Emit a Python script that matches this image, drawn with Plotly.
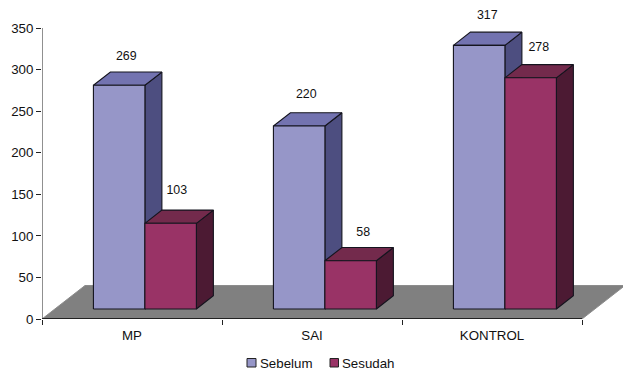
import plotly.graph_objects as go

# Chart data
categories = ["MP", "SAI", "KONTROL"]
sebelum = [269, 220, 317]
sesudah = [103, 58, 278]
series_names = ["Sebelum", "Sesudah"]
y_ticks = [0, 50, 100, 150, 200, 250, 300, 350]

# Colours per series: front, top and side faces
faces_sebelum = ("#9696C8", "#7373B0", "#4D4E80")
faces_sesudah = ("#993366", "#732A4C", "#4C1A33")
edge = "#14141E"
axis_color = "#222222"

# Page layout in pixels
WIDTH, HEIGHT = 623, 370
LEFT, BOTTOM = 42, 51
PX_PER_CATEGORY = 180
PX_PER_VALUE = 291 / 350

# Oblique projection: one unit of depth shifts a point right (category units)
# and up (value units).
DEPTH_X = 43 / PX_PER_CATEGORY
DEPTH_Y = 33.5 / PX_PER_VALUE
BAR_WIDTH = 0.286
Z_FRONT, Z_BACK = 0.30, 0.695

# Per-label fine placement (dx right, dy down, in pixels), series by category
LABEL_NUDGE = [[(0, 2), (0, 0), (1, 1)], [(-1, -2), (5.5, 3), (1, 1)]]


def project(x, value, z):
    return x + z * DEPTH_X, value + z * DEPTH_Y


def polygon(points):
    xs, ys = zip(*[project(*p) for p in points])
    return list(xs) + [xs[0]], list(ys) + [ys[0]]


def face_trace(points, color, width=1.1, line_color=edge):
    xs, ys = polygon(points)
    return go.Scatter(
        x=xs, y=ys, mode="lines", fill="toself", fillcolor=color,
        line=dict(color=line_color, width=width),
        hoverinfo="skip", showlegend=False, cliponaxis=False,
    )


def axis_line(xs, ys, width):
    return go.Scatter(
        x=xs, y=ys, mode="lines", line=dict(color=axis_color, width=width),
        hoverinfo="skip", showlegend=False, cliponaxis=False,
    )


fig = go.Figure()

# Floor of the plot
fig.add_trace(face_trace([(0, 0, 0), (3, 0, 0), (3, 0, 1), (0, 0, 1)],
                         "#808080", width=1, line_color="#8C8C8C"))

# Axis lines stop at the last category and the last value tick
fig.add_trace(axis_line([0, 3], [0, 0], 1.8))
fig.add_trace(axis_line([0, 0], [0, y_ticks[-1]], 1))

# Bars: each series drawn left to right, second series over the first
for s, (values, faces) in enumerate([(sebelum, faces_sebelum), (sesudah, faces_sesudah)]):
    front, top, side = faces
    for i, v in enumerate(values):
        x0 = i + 0.5 - BAR_WIDTH + s * BAR_WIDTH
        x1 = x0 + BAR_WIDTH
        fig.add_trace(face_trace([(x1, 0, Z_FRONT), (x1, 0, Z_BACK), (x1, v, Z_BACK), (x1, v, Z_FRONT)], side))
        fig.add_trace(face_trace([(x0, v, Z_FRONT), (x1, v, Z_FRONT), (x1, v, Z_BACK), (x0, v, Z_BACK)], top))
        fig.add_trace(face_trace([(x0, 0, Z_FRONT), (x1, 0, Z_FRONT), (x1, v, Z_FRONT), (x0, v, Z_FRONT)], front))

# Value labels above each bar
for s, values in enumerate([sebelum, sesudah]):
    lx, ly = [], []
    for i, v in enumerate(values):
        x0 = i + 0.5 - BAR_WIDTH + s * BAR_WIDTH
        px, py = project(x0 + BAR_WIDTH / 2, v, Z_BACK)
        dx, dy = LABEL_NUDGE[s][i]
        lx.append(px - 0.055 + dx / PX_PER_CATEGORY)
        ly.append(py + 21 - dy / PX_PER_VALUE)
    fig.add_trace(go.Scatter(
        x=lx, y=ly, mode="text", text=[str(v) for v in values],
        textposition="middle center",
        textfont=dict(family="Liberation Sans", size=12.4, color="#111111"),
        hoverinfo="skip", showlegend=False, cliponaxis=False,
    ))

fig.update_layout(
    width=WIDTH, height=HEIGHT, autosize=False,
    margin=dict(l=LEFT, r=0, t=0, b=BOTTOM, pad=0),
    paper_bgcolor="white", plot_bgcolor="white",
    font=dict(family="Liberation Sans", size=13.3, color="#111111"),
    showlegend=False,
    xaxis=dict(
        range=[0, (WIDTH - LEFT) / PX_PER_CATEGORY],
        tickmode="array", tickvals=[0.5, 1.5, 2.5], ticktext=categories,
        showgrid=False, zeroline=False, showline=False,
        ticks="outside", ticklen=4, tickcolor="rgba(0,0,0,0)",
        minor=dict(tickmode="array", tickvals=[0, 1, 2, 3], ticks="outside", ticklen=5,
                   tickcolor=axis_color, tickwidth=1, showgrid=False),
    ),
    yaxis=dict(
        range=[0, (HEIGHT - BOTTOM) / PX_PER_VALUE], tickmode="array", tickvals=y_ticks,
        showgrid=False, zeroline=False, showline=False,
        ticks="outside", ticklen=5, tickcolor=axis_color,
    ),
)

# Legend row below the axis, positioned in pixels from the page edges
plot_w, plot_h = WIDTH - LEFT, HEIGHT - BOTTOM


def paper_x(px):
    return (px - LEFT) / plot_w


def paper_y(py):
    return (HEIGHT - BOTTOM - py) / plot_h


swatches = [(247, 256, faces_sebelum[0], 260), (330, 338.5, faces_sesudah[0], 342)]
for (x0, x1, color, tx), name in zip(swatches, series_names):
    fig.add_shape(type="rect", xref="paper", yref="paper",
                  x0=paper_x(x0), x1=paper_x(x1), y0=paper_y(367), y1=paper_y(358.5),
                  fillcolor=color, line=dict(color=axis_color, width=1))
    fig.add_annotation(xref="paper", yref="paper", x=paper_x(tx), y=paper_y(363),
                       text=name, showarrow=False, xanchor="left", yanchor="middle",
                       borderpad=0, borderwidth=0,
                       font=dict(family="Liberation Sans", size=13.3, color="#111111"))

fig.write_html("out.html", config=dict(displayModeBar=False))
